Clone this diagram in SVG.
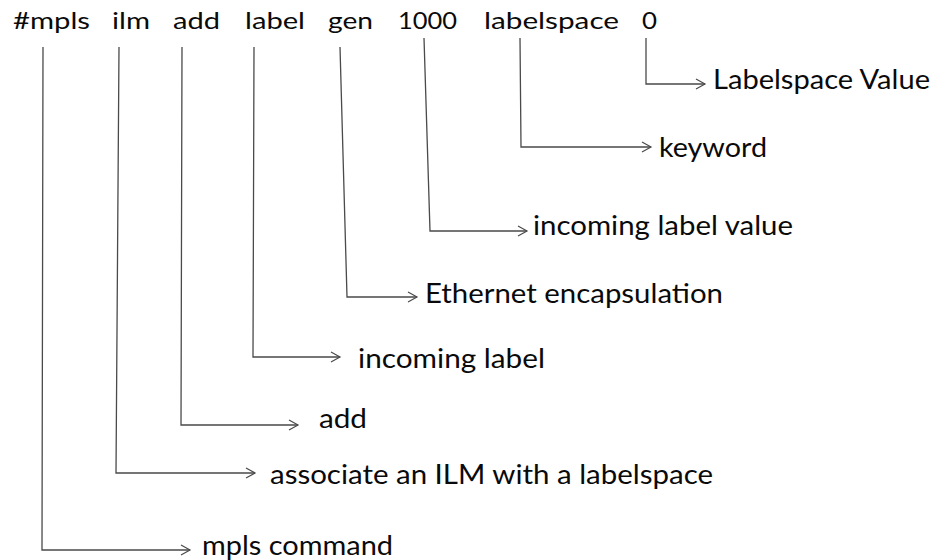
<svg xmlns="http://www.w3.org/2000/svg" width="941" height="560" viewBox="0 0 941 560">
  <style>
    .cmd { font-family: Lato, "Open Sans", "Liberation Sans", sans-serif; font-size: 24px; fill: #0a0a0a; }
    .lbl { font-family: Lato, "Open Sans", "Liberation Sans", sans-serif; font-size: 26px; fill: #0a0a0a; }
    .conn { fill: none; stroke: #4a4a4a; stroke-width: 1.3; marker-end: url(#chev); }
  </style>
  <defs>
    <marker id="chev" markerUnits="userSpaceOnUse" markerWidth="14" markerHeight="14" refX="11" refY="7" orient="auto">
      <path d="M2,2 L11,7 L2,12" fill="none" stroke="#4a4a4a" stroke-width="1.2"/>
    </marker>
  </defs>
  <rect width="941" height="560" fill="#fff"/>

  <!-- command line tokens -->
  <g id="command">
    <text class="cmd" x="13" y="29" textLength="77" lengthAdjust="spacingAndGlyphs">#mpls</text>
    <text class="cmd" x="112" y="29" textLength="38" lengthAdjust="spacingAndGlyphs">ilm</text>
    <text class="cmd" x="173" y="29" textLength="47" lengthAdjust="spacingAndGlyphs">add</text>
    <text class="cmd" x="245" y="29" textLength="60" lengthAdjust="spacingAndGlyphs">label</text>
    <text class="cmd" x="328" y="29" textLength="45" lengthAdjust="spacingAndGlyphs">gen</text>
    <text class="cmd" x="398" y="29" textLength="59" lengthAdjust="spacingAndGlyphs">1000</text>
    <text class="cmd" x="484" y="29" textLength="135" lengthAdjust="spacingAndGlyphs">labelspace</text>
    <text class="cmd" x="642" y="29" textLength="15" lengthAdjust="spacingAndGlyphs">0</text>
  </g>

  <!-- leader lines from each token to its description -->
  <g id="connectors">
    <polyline class="conn" points="646,38 646,84 705,84"/>
    <polyline class="conn" points="520,38 521,147 651,147"/>
    <polyline class="conn" points="424,38 430,231 527,231"/>
    <polyline class="conn" points="340,47 347,297 417,297"/>
    <polyline class="conn" points="254,47 253,357 340,357"/>
    <polyline class="conn" points="182,47 181,425 298,425"/>
    <polyline class="conn" points="119,47 116,473 255,473"/>
    <polyline class="conn" points="43,47 42,550 190,550"/>
  </g>

  <!-- descriptions -->
  <g id="desc-labelspace-value">
    <text class="lbl" x="713" y="89" textLength="217" lengthAdjust="spacingAndGlyphs">Labelspace Value</text>
  </g>
  <g id="desc-keyword">
    <text class="lbl" x="659" y="157" textLength="108" lengthAdjust="spacingAndGlyphs">keyword</text>
  </g>
  <g id="desc-incoming-label-value">
    <text class="lbl" x="533" y="235" textLength="260" lengthAdjust="spacingAndGlyphs">incoming label value</text>
  </g>
  <g id="desc-ethernet">
    <text class="lbl" x="425" y="303" textLength="298" lengthAdjust="spacingAndGlyphs">Ethernet encapsulation</text>
  </g>
  <g id="desc-incoming-label">
    <text class="lbl" x="358" y="368" textLength="187" lengthAdjust="spacingAndGlyphs">incoming label</text>
  </g>
  <g id="desc-add">
    <text class="lbl" x="319" y="428" textLength="48" lengthAdjust="spacingAndGlyphs">add</text>
  </g>
  <g id="desc-ilm">
    <text class="lbl" x="270" y="484" textLength="443" lengthAdjust="spacingAndGlyphs">associate an ILM with a labelspace</text>
  </g>
  <g id="desc-mpls">
    <text class="lbl" x="202" y="555" textLength="191" lengthAdjust="spacingAndGlyphs">mpls command</text>
  </g>
</svg>
